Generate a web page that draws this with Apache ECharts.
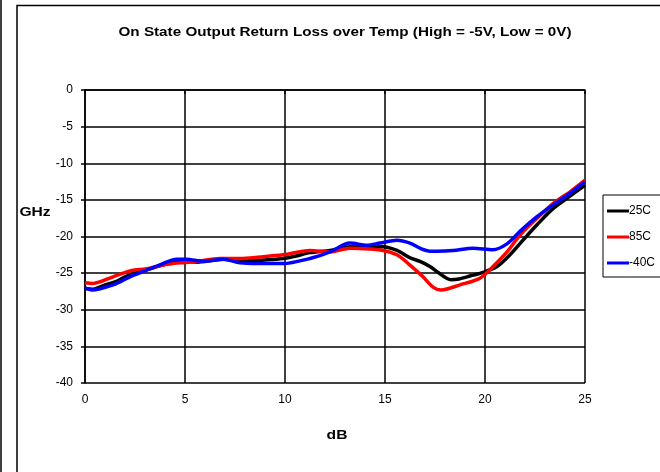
<!DOCTYPE html>
<html>
<head>
<meta charset="utf-8">
<script src="https://cdn.jsdelivr.net/npm/echarts@6/dist/echarts.min.js"></script>
<style>
html,body{margin:0;padding:0;background:#fff;}
#chart{width:660px;height:472px;}
</style>
</head>
<body>
<div id="chart"></div>
<script>
var titleText = 'On State Output Return Loss over Temp (High = -5V, Low = 0V)';
var yAxisName = 'GHz';
var xAxisName = 'dB';
var xTicks = [0, 5, 10, 15, 20, 25];
var yTicks = [0, -5, -10, -15, -20, -25, -30, -35, -40];
var seriesNames = ['25C', '85C', '-40C'];
var seriesColors = ['#000000', '#ff0000', '#0000ff'];

var s25C = [[0,-27.1],[0.4,-27.2],[1,-26.6],[1.5,-26.2],[2,-25.5],[2.5,-25.0],[3,-24.6],[3.5,-24.2],[4,-23.8],[4.6,-23.4],[5,-23.4],[5.6,-23.5],[6,-23.4],[7,-23.1],[7.75,-23.4],[8.25,-23.3],[9,-23.2],[9.9,-23.0],[10.5,-22.7],[11.25,-22.2],[12.25,-21.9],[13.25,-21.4],[14.1,-21.5],[14.9,-21.4],[15.6,-21.9],[16.25,-22.9],[16.75,-23.4],[17.25,-24.1],[17.6,-24.8],[18.3,-25.9],[18.7,-25.8],[19.25,-25.4],[19.9,-24.9],[20.6,-24.1],[21.25,-22.5],[21.9,-20.5],[22.6,-18.4],[23.4,-16.2],[24.25,-14.5],[25,-13.0]];
var s85C = [[0,-26.3],[0.4,-26.4],[1.4,-25.5],[2.25,-24.7],[3.08,-24.4],[3.9,-23.9],[4.75,-23.6],[5.58,-23.4],[6.75,-23.0],[7.75,-23.0],[8.75,-22.8],[9.9,-22.5],[11.25,-21.9],[12.25,-22.1],[13.25,-21.6],[14.25,-21.7],[14.9,-21.9],[15.6,-22.5],[16.25,-23.9],[16.9,-25.5],[17.4,-26.9],[17.8,-27.3],[18.75,-26.6],[19.75,-25.7],[20.4,-24.1],[21.1,-22.1],[21.75,-19.8],[22.6,-17.5],[23.4,-15.5],[24.25,-13.9],[25,-12.3]];
var sM40C = [[0,-27.0],[0.33,-27.3],[1.4,-26.6],[2.25,-25.5],[3.08,-24.6],[3.9,-23.7],[4.58,-23.1],[5.08,-23.1],[5.9,-23.4],[6.9,-23.1],[7.75,-23.6],[8.6,-23.7],[9.9,-23.7],[11.25,-23.0],[12.25,-22.1],[13.25,-20.9],[14.1,-21.2],[14.75,-20.9],[15.6,-20.5],[16.25,-20.9],[16.75,-21.6],[17.25,-22.0],[17.6,-22.0],[18.4,-21.9],[19.4,-21.6],[20.4,-21.8],[21.1,-21.0],[21.75,-19.3],[22.6,-17.3],[23.4,-15.7],[24.25,-14.1],[25,-12.5]];
var seriesData = [s25C, s85C, sM40C];

var chart = echarts.init(document.getElementById('chart'));
var font = 'Arial, "Liberation Sans", sans-serif';
var boldFont = 'bold 12px Arial, "Liberation Sans", sans-serif';
chart.setOption({
  animation: false,
  backgroundColor: '#ffffff',
  grid: {left: 85, right: 75, top: 90, bottom: 89, containLabel: false},
  legend: {
    orient: 'vertical',
    left: 603,
    top: 195,
    padding: [10, 8, 8, 4],
    itemGap: 14,
    itemWidth: 22,
    itemHeight: 3,
    icon: 'rect',
    borderColor: '#000',
    borderWidth: 1,
    backgroundColor: '#fff',
    textStyle: {fontFamily: font, fontSize: 12, color: '#000', padding: [0, 0, 0, -5]},
    data: seriesNames
  },
  xAxis: {
    type: 'value',
    min: 0, max: 25, interval: 5,
    axisLine: {lineStyle: {color: '#000', width: 1.5}},
    axisTick: {show: true, length: 4, lineStyle: {color: '#000', width: 1.5}},
    axisLabel: {fontFamily: font, fontSize: 12, color: '#000', margin: 11,
      formatter: function (v) { return xTicks.indexOf(v) >= 0 ? String(v) : ''; }},
    splitLine: {show: true, lineStyle: {color: '#000', width: 1.5}}
  },
  yAxis: {
    type: 'value',
    min: -40, max: 0, interval: 5,
    axisLine: {lineStyle: {color: '#000', width: 1.5}},
    axisTick: {show: true, length: 4, lineStyle: {color: '#000', width: 1.5}},
    axisLabel: {fontFamily: font, fontSize: 12, color: '#000', margin: 12,
      formatter: function (v) { return yTicks.indexOf(v) >= 0 ? String(v) : ''; }},
    splitLine: {show: true, lineStyle: {color: '#000', width: 1.5}}
  },
  graphic: [
    {type: 'rect', shape: {x: 17, y: 5.5, width: 700, height: 520}, style: {fill: null, stroke: '#000', lineWidth: 1.5}, z: 100},
    {type: 'line', shape: {x1: 1, y1: 0, x2: 1, y2: 472}, style: {stroke: '#000', lineWidth: 1.5}, z: 100},
    {type: 'text', x: 345, y: 33, scaleX: 1.27, style: {text: titleText, x: 0, y: 0, align: 'center', verticalAlign: 'middle', font: boldFont, fill: '#000'}},
    {type: 'text', x: 35, y: 213, scaleX: 1.3, style: {text: yAxisName, x: 0, y: 0, align: 'center', verticalAlign: 'middle', font: boldFont, fill: '#000'}},
    {type: 'text', x: 337, y: 436, scaleX: 1.3, style: {text: xAxisName, x: 0, y: 0, align: 'center', verticalAlign: 'middle', font: boldFont, fill: '#000'}}
  ],
  series: seriesData.map(function (d, i) {
    return {
      name: seriesNames[i],
      type: 'line',
      data: d,
      smooth: 0.3,
      showSymbol: false,
      symbol: 'none',
      color: seriesColors[i],
      lineStyle: {color: seriesColors[i], width: 3.5}
    };
  })
});
</script>
</body>
</html>
